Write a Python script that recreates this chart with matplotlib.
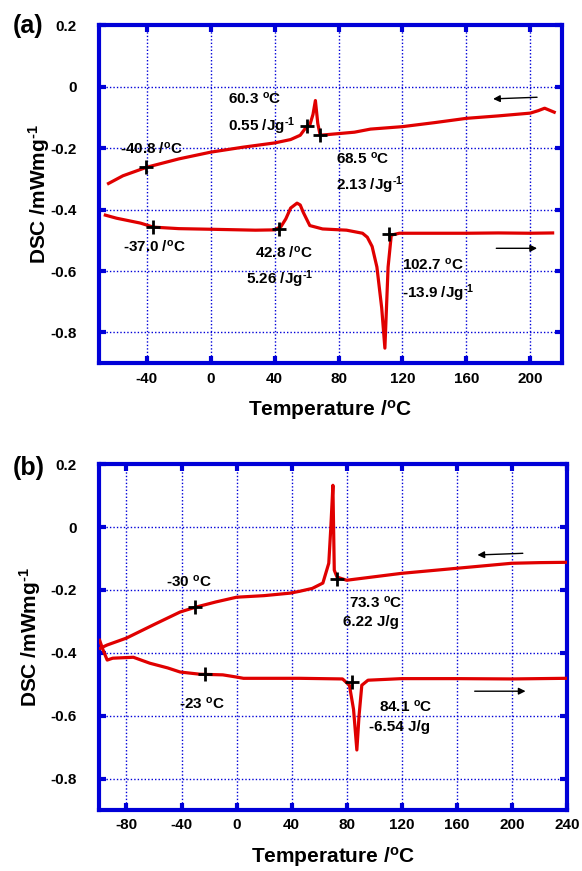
import matplotlib
matplotlib.use('Agg')
import matplotlib.pyplot as plt

plt.rcParams['font.family'] = ['Liberation Sans', 'DejaVu Sans']
plt.rcParams['font.weight'] = 'bold'
plt.rcParams['axes.unicode_minus'] = False
plt.rcParams['mathtext.fontset'] = 'custom'
plt.rcParams['mathtext.rm'] = 'Liberation Sans:bold'
plt.rcParams['mathtext.it'] = 'Liberation Sans:bold'
plt.rcParams['mathtext.bf'] = 'Liberation Sans:bold'
plt.rcParams['mathtext.default'] = 'regular'

# panel (a) - cooling (upper) and heating (lower) traces
a_cool_t = [-64, -55, -40, -20, 0, 20, 40, 50, 56, 60, 62, 64, 65.5, 67, 68.5,
            75, 90, 100, 120, 140, 160, 180, 200, 205, 209, 215]
a_cool_y = [-0.315, -0.29, -0.262, -0.235, -0.213, -0.197, -0.183, -0.172, -0.158,
            -0.13, -0.125, -0.09, -0.045, -0.12, -0.158, -0.155, -0.148, -0.138,
            -0.13, -0.117, -0.103, -0.095, -0.086, -0.078, -0.07, -0.083]
a_heat_t = [-66, -59, -44, -36, -20, 0, 28, 40, 44, 47, 50, 54, 56, 58, 62, 70,
            85, 95, 98, 101, 104, 107, 109, 111, 113, 118, 140, 160, 180, 200, 214]
a_heat_y = [-0.418, -0.428, -0.444, -0.457, -0.462, -0.464, -0.467, -0.466, -0.455,
            -0.43, -0.395, -0.379, -0.385, -0.41, -0.452, -0.463, -0.467, -0.477,
            -0.49, -0.52, -0.587, -0.72, -0.851, -0.587, -0.483, -0.477, -0.477,
            -0.477, -0.476, -0.477, -0.476]
a_mark_t = [-40.8, 60.3, 68.5, -36.0, 42.8, 111.5]
a_mark_y = [-0.262, -0.128, -0.158, -0.457, -0.464, -0.48]

# panel (b)
b_cool_t = [-99, -94, -80, -60, -41, -30, -15, 0, 20, 39, 46, 55, 62.7, 67, 68.5,
            70, 71, 73, 80, 100, 120, 140, 160, 180, 200, 220, 239]
b_cool_y = [-0.385, -0.375, -0.353, -0.31, -0.27, -0.255, -0.238, -0.223, -0.218,
            -0.21, -0.204, -0.195, -0.178, -0.115, 0.0, 0.133, -0.137, -0.159,
            -0.169, -0.158, -0.147, -0.139, -0.131, -0.123, -0.115, -0.113, -0.112]
b_heat_t = [-99.5, -97, -94, -90, -75, -63, -50, -41, -26.6, -10, 0, 5, 46, 77,
            82, 85, 87.4, 89, 91, 95.5, 120, 160, 200, 239]
b_heat_y = [-0.36, -0.391, -0.423, -0.417, -0.414, -0.433, -0.448, -0.461, -0.468,
            -0.47, -0.477, -0.481, -0.481, -0.483, -0.503, -0.58, -0.709, -0.6,
            -0.503, -0.487, -0.482, -0.482, -0.483, -0.481]
b_mark_t = [-30, 73.3, -23, 84.1]
b_mark_y = [-0.255, -0.166, -0.468, -0.493]

inv = r'$^{\text{-1}}$'
a_labels = [(-57, -0.2, '-40.8 /$^{o}$C'), (11, -0.038, '60.3 $^{o}$C'),
            (11, -0.129, '0.55 /Jg' + inv), (78.5, -0.233, '68.5 $^{o}$C'),
            (78.5, -0.32, '2.13 /Jg' + inv), (-55, -0.522, '-37.0 /$^{o}$C'),
            (27.7, -0.539, '42.8 /$^{o}$C'), (22, -0.627, '5.26 /Jg' + inv),
            (119.5, -0.578, '102.7 $^{o}$C'), (119.5, -0.672, '-13.9 /Jg' + inv)]
b_labels = [(-51, -0.172, '-30 $^{o}$C'), (81.6, -0.239, '73.3 $^{o}$C'),
            (77, -0.302, '6.22 J/g'), (-42, -0.56, '-23 $^{o}$C'),
            (103.5, -0.572, '84.1 $^{o}$C'), (96, -0.636, '-6.54 J/g')]

a_arrows = [((206, -0.034), (175, -0.04)), ((177, -0.526), (206, -0.526))]
b_arrows = [((210, -0.083), (173, -0.089)), ((171, -0.522), (212, -0.522))]

yticks = [-0.8, -0.6, -0.4, -0.2, 0, 0.2]
ytlabels = ['-0.8', '-0.6', '-0.4', '-0.2', '0', '0.2']

blue = '#0000d8'
red = '#e00000'

fig = plt.figure(figsize=(5.82, 8.71), dpi=100)
ax1 = fig.add_axes([0.170, 0.583, 0.796, 0.388])
ax2 = fig.add_axes([0.170, 0.070, 0.804, 0.397])


def style(ax, xlim, xticks, ylabelpad):
    ax.set_xlim(xlim)
    ax.set_ylim(-0.9, 0.2)
    ax.set_xticks(xticks)
    ax.set_xticklabels([str(t) for t in xticks])
    ax.set_yticks(yticks)
    ax.set_yticklabels(ytlabels)
    for s in ax.spines.values():
        s.set_color(blue)
        s.set_linewidth(3)
    ax.grid(True, color=blue, ls=(0, (1, 1.5)), lw=1)
    ax.tick_params(direction='in', top=True, right=True, length=5, width=3,
                   color=blue, labelsize=11)
    ax.tick_params(axis='x', pad=6)
    ax.tick_params(axis='y', pad=16)
    for lab in ax.get_xticklabels() + ax.get_yticklabels():
        lab.set_fontweight('bold')
    ax.set_xlabel('Temperature /$^{o}$C', fontsize=15, fontweight='bold', labelpad=9)
    ax.set_ylabel('DSC /mWmg' + inv, fontsize=15, fontweight='bold',
                  labelpad=ylabelpad)


def draw(ax, traces, marks, labels, arrows):
    for t, y in traces:
        ax.plot(t, y, color=red, lw=2.3, zorder=3)
    ax.plot(marks[0], marks[1], ls='none', marker='+', ms=10, mew=2,
            color='black', zorder=4)
    for x, y, s in labels:
        ax.text(x, y, s, fontsize=11, fontweight='bold', va='center', ha='left')
    for (x0, y0), (x1, y1) in arrows:
        ax.annotate('', xy=(x1, y1), xytext=(x0, y0),
                    arrowprops=dict(arrowstyle='-|>', color='black', lw=1,
                                    mutation_scale=10))


style(ax1, (-70, 220), [-40, 0, 40, 80, 120, 160, 200], -1)
draw(ax1, [(a_cool_t, a_cool_y), (a_heat_t, a_heat_y)], (a_mark_t, a_mark_y),
     a_labels, a_arrows)
style(ax2, (-100, 240), [-80, -40, 0, 40, 80, 120, 160, 200, 240], 5)
draw(ax2, [(b_cool_t, b_cool_y), (b_heat_t, b_heat_y)], (b_mark_t, b_mark_y),
     b_labels, b_arrows)

fig.text(0.022, 0.970, '(a)', fontsize=18, fontweight='bold', va='center')
fig.text(0.022, 0.463, '(b)', fontsize=18, fontweight='bold', va='center')

fig.savefig('out.png', dpi=100)
